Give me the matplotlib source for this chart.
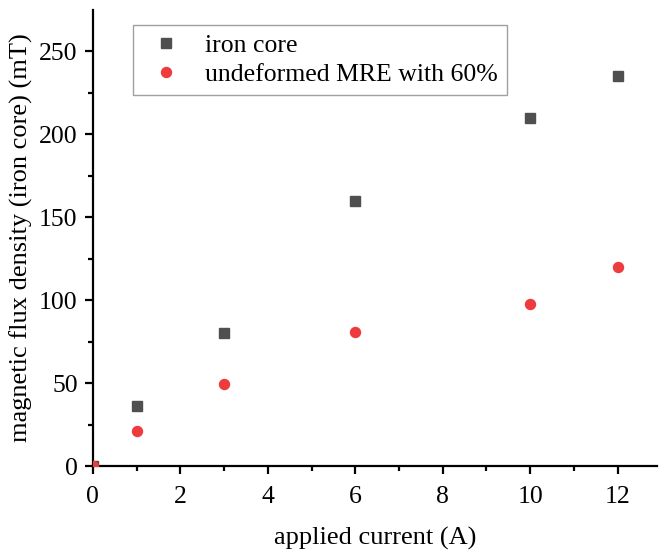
import numpy as np
import matplotlib
matplotlib.use("Agg")
import matplotlib.pyplot as plt

current = [0, 1, 3, 6, 10, 12]
iron_core = [0, 36, 80, 160, 210, 235]
mre_60 = [0, 21, 49.5, 81, 98, 120]

plt.rcParams["font.family"] = ["Liberation Serif", "DejaVu Serif"]

fig = plt.figure(figsize=(6.59, 5.55), dpi=100)
ax = fig.add_axes([0.141, 0.160, 0.856, 0.822])

ax.plot(current, iron_core, "s", color="#4f4f4f", ms=6.5, ls="none",
        label="iron core", clip_on=True, zorder=3)
ax.plot(current, mre_60, "o", color="#ee3b3e", ms=7.2, ls="none",
        label="undeformed MRE with 60%", clip_on=True, zorder=3)

ax.set_xlim(0, 12.9)
ax.set_ylim(0, 275)
ax.set_xticks([0, 2, 4, 6, 8, 10, 12])
ax.set_xticks(np.arange(1, 13, 2), minor=True)
ax.set_yticks([0, 50, 100, 150, 200, 250])
ax.set_yticks(np.arange(25, 275, 50), minor=True)

for s in ["top", "right"]:
    ax.spines[s].set_visible(False)
for s in ["left", "bottom"]:
    ax.spines[s].set_linewidth(1.6)
ax.tick_params(which="major", direction="out", length=6, width=1.6, labelsize=18.5)
ax.tick_params(axis="x", which="major", pad=8)
ax.tick_params(axis="y", which="major", pad=5)
ax.tick_params(which="minor", direction="out", length=3.5, width=1.6)

ax.set_xlabel("applied current (A)", fontsize=19, labelpad=14)
ax.set_ylabel("magnetic flux density (iron core) (mT)", fontsize=19, labelpad=4)

leg = ax.legend(loc="upper left", bbox_to_anchor=(133 / 659, 1 - 25 / 555),
                bbox_transform=fig.transFigure, fontsize=18.5, frameon=True,
                fancybox=False, edgecolor="#888888", borderpad=0.35,
                handletextpad=0.55, labelspacing=0.25, handlelength=1.9,
                borderaxespad=0)
leg.get_frame().set_linewidth(1.0)

fig.savefig("out.png", dpi=100)
